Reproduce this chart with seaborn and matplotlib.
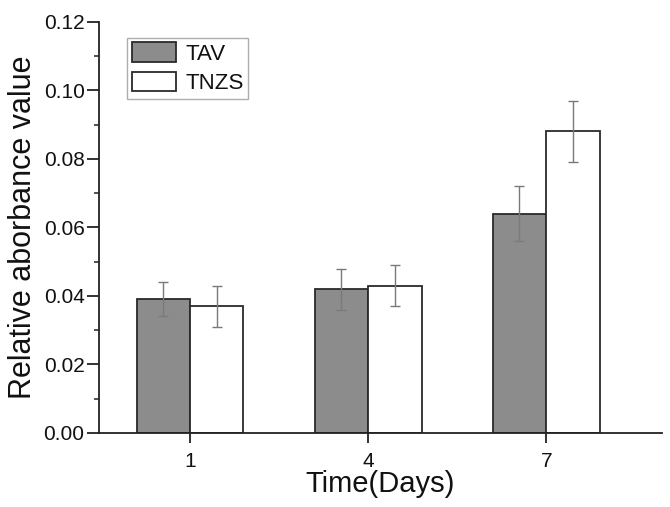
import matplotlib
matplotlib.use("Agg")
import matplotlib.pyplot as plt
import seaborn as sns
import pandas as pd
import numpy as np
from matplotlib.ticker import MultipleLocator

days = ["1", "4", "7"]
tav = [0.039, 0.042, 0.064]
tav_err = [0.005, 0.006, 0.008]
tnzs = [0.037, 0.043, 0.088]
tnzs_err = [0.006, 0.006, 0.009]

df = pd.DataFrame({
    "day": days * 2,
    "value": tav + tnzs,
    "err": tav_err + tnzs_err,
    "group": ["TAV"] * 3 + ["TNZS"] * 3,
})

sns.set_style("ticks")
plt.rcParams["font.family"] = ["Liberation Sans", "DejaVu Sans"]
plt.rcParams["text.color"] = "#111111"
plt.rcParams["axes.labelcolor"] = "#111111"
plt.rcParams["xtick.labelcolor"] = "#111111"
plt.rcParams["ytick.labelcolor"] = "#111111"

fig = plt.figure(figsize=(6.7, 5.07), dpi=100)
ax = fig.add_axes([0.148, 0.146, 0.840, 0.811])

sns.barplot(data=df, x="day", y="value", hue="group", order=days,
            hue_order=["TAV", "TNZS"], palette={"TAV": "#8c8c8c", "TNZS": "#ffffff"},
            errorbar=None, width=0.6, edgecolor="#2a2a2a", linewidth=1.3,
            saturation=1, ax=ax)

# error bars at bar centers
for cont, errs in zip(ax.containers, [tav_err, tnzs_err]):
    xs = [p.get_x() + p.get_width() / 2 for p in cont.patches]
    ys = [p.get_height() for p in cont.patches]
    ax.errorbar(xs, ys, yerr=errs, fmt="none", ecolor="#7a7a7a",
                elinewidth=1.0, capsize=3.5, capthick=1.0, zorder=5)

ax.set_xlim(-0.51, 2.65)
ax.set_ylim(0, 0.12)
ax.yaxis.set_major_locator(MultipleLocator(0.02))
ax.yaxis.set_minor_locator(MultipleLocator(0.01))
ax.yaxis.set_major_formatter(matplotlib.ticker.FormatStrFormatter("%.2f"))
sns.despine(ax=ax)
for s in ["left", "bottom"]:
    ax.spines[s].set_color("#222222")
    ax.spines[s].set_linewidth(1.3)
ax.tick_params(axis="both", which="major", direction="out", width=1.3,
               labelsize=15, color="#222222", labelcolor="#111111")
ax.tick_params(axis="y", which="major", length=8.5, pad=2)
ax.tick_params(axis="x", which="major", length=7, pad=7)
ax.tick_params(axis="y", which="minor", direction="out", length=3.5, width=1.1, color="#222222")
ax.set_xlabel("Time(Days)", fontsize=21, labelpad=-1, color="#111111")
ax.set_ylabel("Relative aborbance value", fontsize=22, labelpad=4, color="#111111")

leg = ax.legend(loc="upper left", bbox_to_anchor=(0.05, 0.961), fontsize=16,
                frameon=True, fancybox=False, edgecolor="#999999",
                handlelength=2.0, handleheight=1.0, handletextpad=0.4,
                borderpad=0.2, labelspacing=0.3, borderaxespad=0)
leg.get_frame().set_linewidth(1.0)
for h in leg.legend_handles:
    h.set_edgecolor("#2a2a2a")
    h.set_linewidth(1.3)
for t in leg.get_texts():
    t.set_color("#111111")

fig.savefig("out.png", dpi=100)
